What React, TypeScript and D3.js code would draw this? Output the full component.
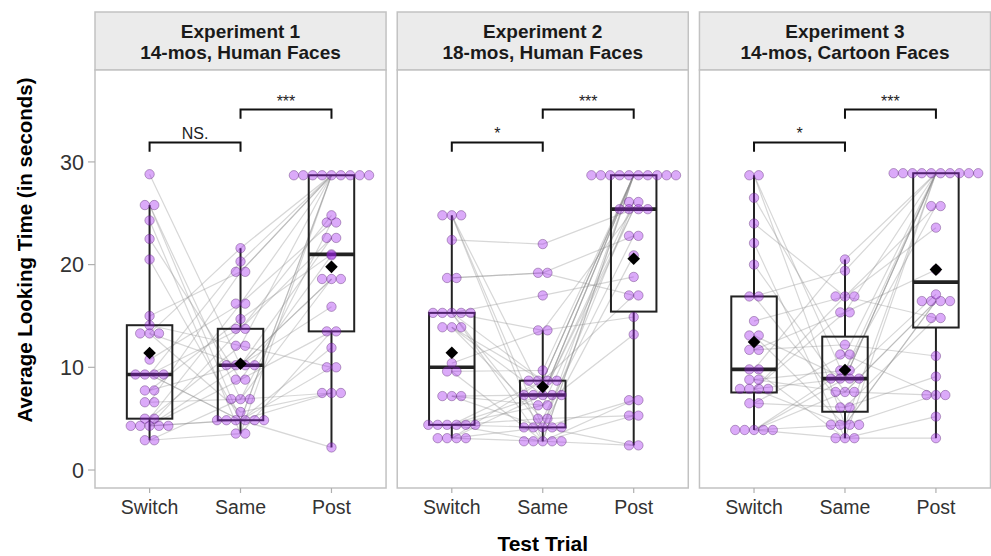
import React from 'react';
import * as d3 from 'd3';

// categories
const TRIALS = ['Switch', 'Same', 'Post'];
const EXPERIMENTS = ['Experiment 1', 'Experiment 2', 'Experiment 3'];
const SUBTITLES = ['14-mos, Human Faces', '18-mos, Human Faces', '14-mos, Cartoon Faces'];
const Y_TICKS = [0, 10, 20, 30];

// looking times (s), one entry per infant, same infant order across trials
const exp1Switch = [28.8, 25.8, 25.8, 24.3, 22.5, 20.5, 15.0, 14.1, 13.3, 13.3, 13.3, 10.75, 9.3, 9.3, 9.3, 9.3, 7.75, 7.75, 6.6, 6.6, 5.0, 5.0, 4.3, 4.3, 4.3, 4.3, 4.3, 2.9, 2.9];
const exp1Same = [10.2, 4.85, 6.9, 3.55, 8.8, 4.85, 19.3, 12.1, 21.6, 5.65, 10.2, 16.2, 4.85, 13.75, 20.3, 4.85, 14.7, 10.2, 19.3, 6.9, 16.2, 12.1, 8.8, 4.85, 13.75, 10.2, 4.85, 6.9, 3.55];
const exp1Post = [18.6, 28.7, 24.1, 28.7, 13.5, 28.7, 28.7, 10.0, 28.7, 7.5, 22.6, 28.7, 2.2, 24.8, 28.7, 10.0, 21.0, 15.9, 28.7, 7.5, 24.1, 28.7, 20.9, 11.9, 22.6, 18.6, 7.5, 18.6, 13.5];

const exp2Switch = [24.8, 24.8, 24.8, 22.4, 18.7, 18.7, 15.3, 15.3, 15.3, 15.3, 15.3, 13.9, 13.9, 13.9, 10.4, 9.6, 9.6, 7.2, 7.2, 7.2, 4.4, 4.4, 4.4, 4.4, 4.4, 4.4, 3.1, 3.1, 3.1, 3.1];
const exp2Same = [2.8, 4.15, 7.3, 22.0, 19.2, 19.2, 17.0, 8.7, 4.15, 13.6, 2.8, 7.3, 5.0, 8.7, 13.6, 9.7, 2.8, 6.3, 7.3, 4.15, 8.7, 2.8, 7.3, 6.3, 4.15, 5.0, 8.7, 7.3, 2.8, 4.15];
const exp2Post = [28.7, 26.1, 28.7, 25.4, 22.8, 17.0, 18.8, 28.7, 6.8, 25.4, 28.7, 26.1, 5.3, 28.7, 14.9, 28.7, 2.4, 25.4, 28.7, 20.9, 28.7, 6.8, 25.4, 13.2, 28.7, 22.8, 17.0, 28.7, 5.3, 2.4];

const exp3Switch = [28.7, 28.7, 26.5, 24.0, 22.1, 20.0, 16.9, 16.9, 14.5, 13.1, 13.1, 11.7, 11.7, 9.8, 9.8, 8.8, 8.8, 7.9, 7.9, 7.9, 7.9, 6.5, 6.5, 3.9, 3.9, 3.9, 3.9, 3.9];
const exp3Same = [8.9, 4.4, 11.25, 16.9, 3.1, 7.6, 19.4, 6.1, 16.9, 4.4, 8.9, 15.35, 12.2, 20.5, 3.1, 9.7, 7.6, 16.9, 4.4, 8.9, 15.35, 11.25, 6.1, 9.7, 3.1, 8.9, 4.4, 7.6];
const exp3Post = [28.9, 16.45, 7.3, 14.8, 28.9, 16.45, 28.9, 9.1, 25.7, 28.9, 17.1, 28.9, 11.1, 28.9, 5.2, 28.9, 16.45, 23.6, 7.3, 28.9, 19.5, 28.9, 14.8, 25.7, 3.1, 28.9, 16.45, 7.3];

const SERIES = [
  [exp1Switch, exp1Same, exp1Post],
  [exp2Switch, exp2Same, exp2Post],
  [exp3Switch, exp3Same, exp3Post],
];

// significance brackets: Switch-Same and Same-Post, heights in seconds
const BRACKET_LEVELS = [31.9, 35.1];
const BRACKET_DROP = 0.9;
const SIG_LABELS = [['NS.', '***'], ['*', '***'], ['*', '***']];

const W = 991;
const H = 556;
const FONT = '"Liberation Sans", Arial, Helvetica, sans-serif';
const DOT_R = 4.7;

function boxStats(vals: number[]) {
  const s = vals.slice().sort(d3.ascending);
  const q1 = d3.quantileSorted(s, 0.25) as number;
  const med = d3.quantileSorted(s, 0.5) as number;
  const q3 = d3.quantileSorted(s, 0.75) as number;
  const iqr = q3 - q1;
  const lo = d3.min(s.filter((v) => v >= q1 - 1.5 * iqr)) as number;
  const hi = d3.max(s.filter((v) => v <= q3 + 1.5 * iqr)) as number;
  return { q1, med, q3, lo, hi, mean: d3.mean(s) as number };
}

export default function App() {
  const panel = d3.scaleBand().domain(EXPERIMENTS).range([95, 990.5]).paddingInner(0.037);
  const y = d3.scaleLinear().domain([-1.75, 38.95]).range([488, 70]);
  const bw = panel.bandwidth();
  const stripTop = 12;
  const [plotTop, plotBottom] = [y.range()[1], y.range()[0]];

  return (
    <svg width={W} height={H} style={{ position: 'absolute', left: 0, top: 0, fontFamily: FONT }}>
      <rect width={W} height={H} fill="#fff" />
      {EXPERIMENTS.map((exp, e) => {
        const x0 = panel(exp) as number;
        const x = d3.scalePoint().domain(TRIALS).range([x0, x0 + bw]).padding(0.6);
        const data = SERIES[e];
        const n = d3.max(data, (d) => d.length) as number;
        const line = d3.line<[number, number]>();
        return (
          <g key={exp}>
            {/* strip */}
            <rect x={x0} y={stripTop} width={bw} height={plotTop - stripTop} fill="#ebebeb" stroke="#c2c2c2" strokeWidth={1.5} />
            <text x={x0 + bw / 2} textAnchor="middle" fontWeight="bold" fontSize={19} fill="#1a1a1a">
              <tspan x={x0 + bw / 2} y={37.5}>{exp}</tspan>
              <tspan x={x0 + bw / 2} y={59}>{SUBTITLES[e]}</tspan>
            </text>
            {/* panel */}
            <rect x={x0} y={plotTop} width={bw} height={plotBottom - plotTop} fill="#fff" stroke="#c2c2c2" strokeWidth={1.5} />

            {/* infant lines */}
            {d3.range(n).map((i) => {
              const pts = TRIALS.map((t, k) => [x(t) as number, data[k][i]] as [number, number])
                .filter((p) => p[1] != null)
                .map((p) => [p[0], y(p[1])] as [number, number]);
              return (
                <path key={i} d={line(pts) as string} fill="none" stroke="#8c8c8c" strokeOpacity={0.35} strokeWidth={1.2} />
              );
            })}

            {/* boxplots */}
            {TRIALS.map((t, k) => {
              const s = boxStats(data[k]);
              const cx = x(t) as number;
              const half = (x.step() * 0.5) / 2;
              return (
                <g key={t} stroke="#222" fill="none">
                  <line x1={cx} x2={cx} y1={y(s.q3)} y2={y(s.hi)} strokeWidth={2} />
                  <line x1={cx} x2={cx} y1={y(s.q1)} y2={y(s.lo)} strokeWidth={2} />
                  <rect x={cx - half} y={y(s.q3)} width={half * 2} height={y(s.q1) - y(s.q3)} strokeWidth={2} />
                  <line x1={cx - half} x2={cx + half} y1={y(s.med)} y2={y(s.med)} strokeWidth={3.6} />
                </g>
              );
            })}

            {/* dot stacks */}
            {TRIALS.map((t, k) => {
              const cx = x(t) as number;
              const groups = Array.from(d3.group(data[k].filter((v) => v != null), (v) => v));
              return (
                <g key={t}>
                  {groups.map(([v, arr]) =>
                    arr.map((_, j) => (
                      <circle
                        key={`${v}-${j}`}
                        cx={cx + (j - (arr.length - 1) / 2) * DOT_R * 2}
                        cy={y(v)}
                        r={DOT_R}
                        fill="#a020f0"
                        fillOpacity={0.38}
                        stroke="#5a2a70"
                        strokeOpacity={0.45}
                        strokeWidth={0.9}
                      />
                    ))
                  )}
                </g>
              );
            })}

            {/* means */}
            {TRIALS.map((t, k) => {
              const s = boxStats(data[k]);
              const cx = x(t) as number;
              const cy = y(s.mean);
              const d = 6.3;
              return <path key={t} d={`M${cx},${cy - d}L${cx + d},${cy}L${cx},${cy + d}L${cx - d},${cy}Z`} fill="#000" />;
            })}

            {/* significance brackets */}
            {BRACKET_LEVELS.map((lvl, b) => {
              const xa = x(TRIALS[b]) as number;
              const xb = x(TRIALS[b + 1]) as number;
              const label = SIG_LABELS[e][b];
              return (
                <g key={b}>
                  <path
                    d={`M${xa},${y(lvl - BRACKET_DROP)}V${y(lvl)}H${xb}V${y(lvl - BRACKET_DROP)}`}
                    fill="none"
                    stroke="#111"
                    strokeWidth={2}
                  />
                  <text x={(xa + xb) / 2} y={y(lvl) - 3} textAnchor="middle" fontSize={16} fill="#222">
                    {label}
                  </text>
                </g>
              );
            })}

            {/* x axis */}
            {TRIALS.map((t) => (
              <g key={t}>
                <line x1={x(t)} x2={x(t)} y1={plotBottom} y2={plotBottom + 5} stroke="#b0b0b0" strokeWidth={1.2} />
                <text x={x(t)} y={514} textAnchor="middle" fontSize={19.5} fill="#333">
                  {t}
                </text>
              </g>
            ))}
          </g>
        );
      })}

      {/* y axis */}
      {Y_TICKS.map((v) => (
        <g key={v}>
          <line x1={88} x2={95} y1={y(v)} y2={y(v)} stroke="#b0b0b0" strokeWidth={1.2} />
          <text x={84} y={y(v)} dy="0.36em" textAnchor="end" fontSize={21.5} fill="#333">
            {v}
          </text>
        </g>
      ))}

      <text
        transform={`translate(32,${(stripTop + plotBottom) / 2}) rotate(-90)`}
        textAnchor="middle"
        fontWeight="bold"
        fontSize={20.5}
        fill="#000"
      >
        Average Looking Time (in seconds)
      </text>
      <text x={(95 + 990.5) / 2} y={551} textAnchor="middle" fontWeight="bold" fontSize={21} fill="#000">
        Test Trial
      </text>
    </svg>
  );
}
